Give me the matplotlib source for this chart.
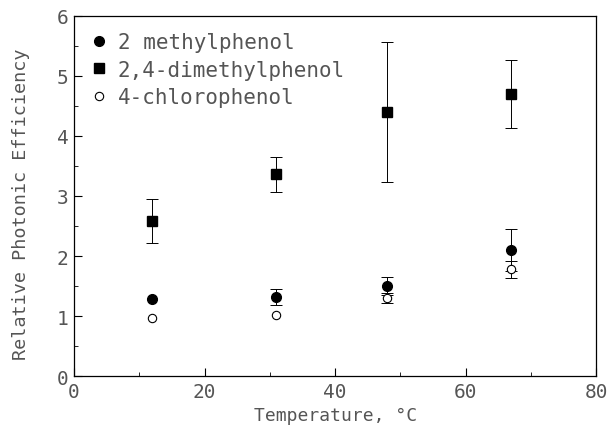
import matplotlib
matplotlib.use("Agg")
import matplotlib.pyplot as plt
from matplotlib.ticker import MultipleLocator

# temperatures (deg C)
temps = [12, 31, 48, 67]

# 2-methylphenol
mp_y = [1.28, 1.32, 1.50, 2.10]
mp_err = [0.0, 0.13, 0.15, 0.35]

# 2,4-dimethylphenol
dmp_y = [2.58, 3.36, 4.40, 4.70]
dmp_err = [0.37, 0.29, 1.17, 0.56]

# 4-chlorophenol
cp_y = [0.97, 1.02, 1.30, 1.78]
cp_err = [0.0, 0.0, 0.08, 0.14]

txt = "#555555"
plt.rcParams['font.family'] = ['DejaVu Sans Mono']
plt.rcParams['font.size'] = 12

fig = plt.figure(figsize=(6.12, 4.31), dpi=100)
ax = fig.add_axes([0.121, 0.125, 0.853, 0.836])

ekw = dict(fmt='none', ecolor='black', capsize=4, elinewidth=0.7, capthick=0.7)
# error bars only where they exist
for ys, es in [(mp_y, mp_err), (dmp_y, dmp_err), (cp_y, cp_err)]:
    xs = [t for t, e in zip(temps, es) if e > 0]
    yv = [y for y, e in zip(ys, es) if e > 0]
    ev = [e for e in es if e > 0]
    ax.errorbar(xs, yv, yerr=ev, **ekw)

ax.plot(temps, mp_y, 'o', color='black', ms=7, label='2 methylphenol')
ax.plot(temps, dmp_y, 's', color='black', ms=7, label='2,4-dimethylphenol')
ax.plot(temps, cp_y, 'o', color='black', mfc='white', ms=6, mew=0.8,
        label='4-chlorophenol')

ax.set_xlim(0, 80)
ax.set_ylim(0, 6)
ax.xaxis.set_major_locator(MultipleLocator(20))
ax.xaxis.set_minor_locator(MultipleLocator(10))
ax.yaxis.set_major_locator(MultipleLocator(1))
ax.yaxis.set_minor_locator(MultipleLocator(0.5))
ax.tick_params(which='both', direction='in', colors='black', labelcolor=txt,
               top=False, right=False)
ax.tick_params(which='major', length=6, labelsize=14, pad=4)
ax.tick_params(which='minor', length=3)
for s in ax.spines.values():
    s.set_linewidth(0.9)

ax.set_xlabel("Temperature, °C", color=txt, fontsize=13)
ax.set_ylabel("Relative Photonic Efficiency", color=txt, fontsize=13.3,
              labelpad=14)
ax.yaxis.set_label_coords(-0.085, 0.48)

leg = ax.legend(loc='upper left', frameon=False, fontsize=15,
                handlelength=0.8, handletextpad=0.5, borderaxespad=0.4,
                labelspacing=0.35)
for t in leg.get_texts():
    t.set_color(txt)

plt.savefig("out.png", dpi=100)
